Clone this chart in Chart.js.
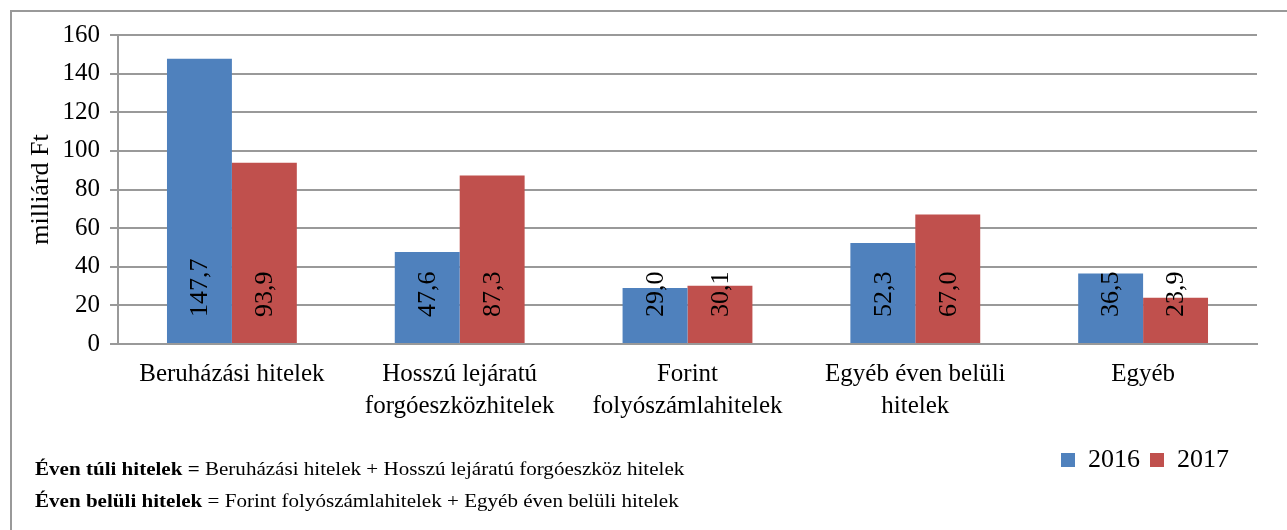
<!DOCTYPE html>
<html>
<head>
<meta charset="utf-8">
<script src="https://cdn.jsdelivr.net/npm/chart.js@4/dist/chart.umd.min.js"></script>
<style>
  html, body { margin: 0; padding: 0; background: #fff; }
  #wrap { position: relative; width: 1287px; height: 530px; overflow: hidden; }
  #frame { position: absolute; left: 10px; top: 10px; width: 1300px; height: 540px;
           border-top: 2px solid #999; border-left: 2px solid #999; }
  #chart { position: absolute; left: 0; top: 0; }
  .note { position: absolute; left: 35px; font-family: 'Liberation Serif', 'Times New Roman', serif;
          font-size: 18px; color: #000; white-space: nowrap;
          transform: scaleX(1.17); transform-origin: left center; }
</style>
</head>
<body>
<div id="wrap">
  <div id="frame"></div>
  <canvas id="chart" width="1287" height="530"></canvas>
  <div class="note" style="top:459px"><b>Éven túli hitelek =</b> Beruházási hitelek + Hosszú lejáratú forgóeszköz hitelek</div>
  <div class="note" style="top:491px"><b>Éven belüli hitelek</b> = Forint folyószámlahitelek + Egyéb éven belüli hitelek</div>
</div>
<script>
// adatok
const kategoriak = [
  ['Beruházási hitelek'],
  ['Hosszú lejáratú', 'forgóeszközhitelek'],
  ['Forint', 'folyószámlahitelek'],
  ['Egyéb éven belüli', 'hitelek'],
  ['Egyéb']
];
const ertekek2016 = [147.7, 47.6, 29.0, 52.3, 36.5];
const ertekek2017 = [93.9, 87.3, 30.1, 67.0, 23.9];
const yTickek = [0, 20, 40, 60, 80, 100, 120, 140, 160];

Chart.defaults.font.family = "'Liberation Serif', 'Times New Roman', serif";
Chart.defaults.font.size = 25;
Chart.defaults.color = '#000';

// feliratok a rudakon, elforgatva
const rudFeliratok = {
  id: 'rudFeliratok',
  afterDatasetsDraw(chart) {
    const c = chart.ctx;
    chart.data.datasets.forEach((ds, i) => {
      chart.getDatasetMeta(i).data.forEach((bar, j) => {
        const txt = ds.data[j].toFixed(1).replace('.', ',');
        c.save();
        c.translate(bar.x, bar.base - 26);
        c.rotate(-Math.PI / 2);
        c.font = "26px 'Liberation Serif', 'Times New Roman', serif";
        c.fillStyle = '#000';
        c.textAlign = 'left';
        c.textBaseline = 'middle';
        c.fillText(txt, 0, 1);
        c.restore();
      });
    });
  }
};

// a jelmagyarazat kicsit balra
const legendEltolas = {
  id: 'legendEltolas',
  afterLayout(chart) {
    chart.legend.left -= 18;
    chart.legend.right -= 18;
    chart.legend.top += 2;
    chart.legend.bottom += 2;
  }
};

const chart = new Chart(document.getElementById('chart'), {
  type: 'bar',
  data: {
    labels: kategoriak,
    datasets: [
      { label: '2016', data: ertekek2016, backgroundColor: '#4F81BD' },
      { label: '2017', data: ertekek2017, backgroundColor: '#C0504D' }
    ]
  },
  options: {
    responsive: false,
    animation: false,
    datasets: { bar: { categoryPercentage: 0.57, barPercentage: 1 } },
    layout: { padding: { left: 24, right: 30, top: 35, bottom: 49 } },
    plugins: {
      tooltip: { enabled: false },
      legend: {
        position: 'bottom',
        align: 'end',
        labels: { boxWidth: 14, boxHeight: 14, padding: 10, font: { size: 26 } }
      }
    },
    scales: {
      x: {
        grid: { display: false },
        border: { display: true, color: '#999', width: 2 },
        ticks: { maxRotation: 0, autoSkip: false, padding: 6, font: { size: 25, lineHeight: 1.3 } },
        afterFit(s) { s.height = 91; }
      },
      y: {
        min: 0,
        max: 160,
        afterBuildTicks(s) { s.ticks = yTickek.map(v => ({ value: v })); },
        grid: { color: '#999', lineWidth: 2, tickLength: 8 },
        border: { display: true, color: '#999', width: 2 },
        ticks: { padding: 10, font: { size: 25 } },
        title: { display: true, text: 'milliárd Ft', font: { size: 26 }, padding: 2 },
        afterFit(s) { s.width = 94; }
      }
    }
  },
  plugins: [rudFeliratok, legendEltolas]
});
</script>
</body>
</html>
